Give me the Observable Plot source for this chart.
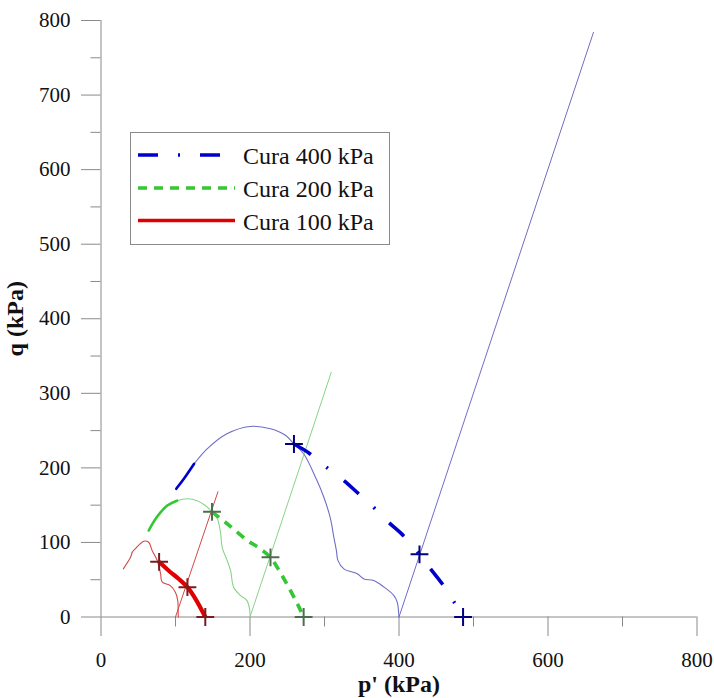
<!DOCTYPE html>
<html><head><meta charset="utf-8">
<script src="https://cdn.jsdelivr.net/npm/d3@7"></script>
<script src="https://cdn.jsdelivr.net/npm/@observablehq/plot@0.6"></script>
<style>body{margin:0;background:#fff}#chart{width:714px;height:698px}</style>
</head><body><div id="chart"></div>
<script>
// ---- data ----
const seriesNames = ["Cura 400 kPa", "Cura 200 kPa", "Cura 100 kPa"];
const thickColors = ["#0000cc", "#33c833", "#e00000"];
const thinColors  = ["#6e6ec8", "#88d488", "#d24848"];
const crossColors = ["#000080", "#4d6e4d", "#7a1c1c"];
const dashes      = ["20,20,2,20", "9,7", null];

const xTicks = [0, 200, 400, 600, 800];
const xMinor = [100, 300, 500, 700];
const yTicks = [0, 100, 200, 300, 400, 500, 600, 700, 800];
const yMinor = [50, 150, 250, 350, 450, 550, 650, 750];

// total stress lines (p', q)
const tsp400 = [[400, 0], [661, 784]];
const tsp200 = [[200, 0], [309, 328]];
const tsp100 = [[100, 0], [157, 168]];

// measured (thin) stress paths
const path400 = [[101,172],[111,185],[125,205.5],[142.5,225.6],[169,245.7],[200,255.5],[227.5,252.4],[248,243.4],[259,232],[272,219],[289,185],[299,161],[308,132],[312.5,107],[316,89],[318,76],[326,64.6],[344,58],[353,51],[366,49],[380,40],[393,29],[397.6,20],[399.7,4],[400,0]];
const path200 = [[64,116],[75,134],[89,149.5],[102,156],[116,158.5],[129,156],[140,149.5],[149,141],[156,132],[160,116],[163,92],[168.5,78],[174,62],[178,40],[187,29],[196,22],[199.7,8.7],[200,0]];
const path100 = [[30,64.6],[39.6,80],[42,87],[46,91.4],[57.5,101.7],[64,100.3],[68.7,89],[75.4,76],[80,58],[82,47],[93,42],[100,33],[103,22],[103.6,4],[103.8,0]];
// bold start portion (number of leading points of the measured path)
const boldStart = [3, 4, 0];

// cured (thick) paths
const cure400 = [[259,232],[279,220],[301,202],[326,183],[344,167],[366,147],[386,127],[406,109],[427.5,84],[442,65],[458,44.5],[474,20],[486,0]];
const cure200 = [[149,141],[172,123],[196,103],[213,92],[227.5,80],[241,59],[254,36],[264,17],[272,0]];
const cure100 = [[78,74],[91,62],[104.5,51],[116,40],[127,24],[140,0]];

// cross markers
const marks400 = [[259,232],[427.5,84],[486,0]];
const marks200 = [[149,141],[227.5,80],[272,0]];
const marks100 = [[78,74],[116,40],[140,0]];

const tsps = [tsp400, tsp200, tsp100];
const paths = [path400, path200, path100];
const cures = [cure400, cure200, cure100];
const crosses = [marks400, marks200, marks100];

const gray = "#8a8a8a";
const X = d => d[0], Y = d => d[1];

const marks = [
  Plot.ruleY([0], {x1: 0, x2: 800, stroke: gray}),
  Plot.ruleX([0], {y1: 0, y2: 800, stroke: gray}),
  Plot.axisX(xTicks, {tickSize: 19.5, tickPadding: 16, stroke: gray, fill: "#111"}),
  Plot.axisX(xMinor, {tickSize: 10, tickFormat: () => "", stroke: gray}),
  Plot.axisY(yTicks, {tickSize: 19.5, tickPadding: 11, stroke: gray, fill: "#111"}),
  Plot.axisY(yMinor, {tickSize: 10, tickFormat: () => "", stroke: gray}),
  Plot.text(["p' (kPa)"], {frameAnchor: "bottom", dy: 75, fontWeight: "bold", fontSize: 24, fill: "#111"}),
  Plot.text(["q (kPa)"], {frameAnchor: "left", dx: -86, rotate: -90, textAnchor: "middle", lineAnchor: "middle", fontWeight: "bold", fontSize: 24, fill: "#111"})
];
for (let i = 0; i < 3; i++) {
  marks.push(Plot.line(tsps[i], {x: X, y: Y, stroke: thinColors[i], strokeWidth: 1}));
  marks.push(Plot.line(paths[i], {x: X, y: Y, stroke: thinColors[i], strokeWidth: 1.1, curve: "catmull-rom"}));
  if (boldStart[i] > 0)
    marks.push(Plot.line(paths[i].slice(0, boldStart[i]), {x: X, y: Y, stroke: thickColors[i], strokeWidth: 2.6, curve: "catmull-rom"}));
}
for (let i = 0; i < 3; i++) {
  marks.push(Plot.line(cures[i], {x: X, y: Y, stroke: thickColors[i], strokeWidth: i === 2 ? 4.2 : 3.6, strokeDasharray: dashes[i], strokeLinecap: "butt", curve: "catmull-rom"}));
}
for (let i = 0; i < 3; i++) {
  marks.push(Plot.dot(crosses[i], {x: X, y: Y, symbol: "plus", r: 5.8, stroke: crossColors[i], strokeWidth: 2}));
}

const plot = Plot.plot({
  width: 714, height: 698,
  marginLeft: 100.5, marginRight: 17.5, marginTop: 20, marginBottom: 81.5,
  x: {domain: [0, 800], label: null},
  y: {domain: [0, 800], label: null},
  style: {fontFamily: "'Liberation Serif', 'Times New Roman', serif", fontSize: "21px", background: "#fff"},
  marks
});
document.getElementById("chart").appendChild(plot);

// legend drawn inside the svg
const svg = d3.select(plot);
const lg = svg.append("g");
lg.append("rect").attr("x", 130.5).attr("y", 132.5).attr("width", 259).attr("height", 112)
  .attr("fill", "#fff").attr("stroke", gray);
const rowY = [155, 188, 220.5];
seriesNames.forEach((name, i) => {
  lg.append("line").attr("x1", 138).attr("x2", 235).attr("y1", rowY[i]).attr("y2", rowY[i])
    .attr("stroke", thickColors[i]).attr("stroke-width", 3.6)
    .attr("stroke-dasharray", dashes[i]);
  lg.append("text").attr("x", 243).attr("y", rowY[i] + 9).attr("font-size", 24).attr("fill", "#111")
    .attr("text-anchor", "start").text(name);
});
</script></body></html>
